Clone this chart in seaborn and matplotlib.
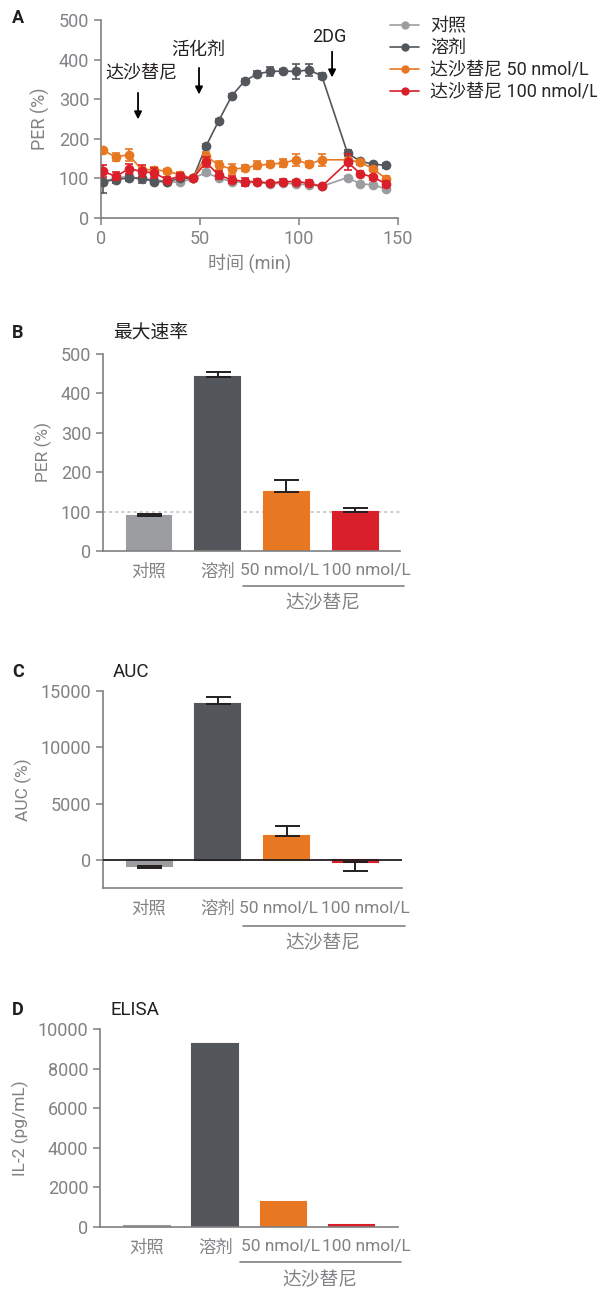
import numpy as np
import pandas as pd
import matplotlib
matplotlib.use('Agg')
import matplotlib.pyplot as plt
import seaborn as sns
from matplotlib.lines import Line2D

sns.set_theme(style='ticks')
plt.rcParams['font.family'] = ['Roboto', 'Noto Sans CJK SC', 'DejaVu Sans']
plt.rcParams['axes.unicode_minus'] = False

# ---------------- data ----------------
time_min = [1, 7.5, 14, 20.5, 27, 33.5, 40, 46.5, 53, 59.5, 66, 72.5, 79, 85.5,
            92, 98.5, 105, 111.5, 124.5, 131, 137.5, 144]
per_control = [92, 101, 105, 99, 97, 92, 90, 100, 115, 101, 92, 90, 90, 86,
               88, 86, 84, 80, 102, 86, 84, 73]
err_control = [8, 8, 6, 6, 6, 5, 5, 0, 6, 5, 4, 4, 4, 4, 4, 4, 4, 3, 5, 4, 4, 6]
per_solvent = [92, 97, 101, 100, 92, 92, 100, 100, 181, 246, 308, 346, 364, 370,
               371, 370, 374, 359, 164, 143, 136, 133]
err_solvent = [28, 8, 8, 12, 6, 5, 5, 0, 6, 5, 5, 5, 6, 12, 6, 18, 15, 8, 8, 5, 4, 7]
per_das50 = [171, 154, 160, 122, 122, 118, 109, 100, 157, 133, 124, 126, 133, 136,
             139, 147, 136, 147, 147, 141, 124, 99]
err_das50 = [4, 10, 15, 8, 8, 5, 6, 0, 10, 12, 12, 8, 10, 8, 10, 15, 8, 15, 0, 6, 6, 8]
per_das100 = [118, 105, 124, 118, 113, 97, 105, 100, 141, 108, 97, 92, 92, 88,
              92, 92, 88, 80, 141, 112, 103, 86]
err_das100 = [15, 10, 12, 15, 12, 6, 8, 0, 12, 10, 8, 10, 6, 5, 6, 5, 8, 4, 20, 6, 6, 8]
series_labels = ['对照', '溶剂', '达沙替尼 50 nmol/L', '达沙替尼 100 nmol/L']

bar_cats = ['对照', '溶剂', '50 nmol/L', '100 nmol/L']
bracket_label = '达沙替尼'
max_rate = [90, 441, 149, 98]
max_rate_err = [5, 13, 32, 11]
auc = [-470, 13850, 2150, -120]
auc_err = [240, 650, 880, 790]
il2 = [50, 9240, 1250, 110]

# ---------------- style ----------------
GREY_L = '#9c9da0'
GREY_D = '#53565a'
ORANGE = '#e87722'
RED = '#d91f29'
colors = [GREY_L, GREY_D, ORANGE, RED]
TXT = '#808285'
AXC = '#808080'

W, H = 597, 1289
fig = plt.figure(figsize=(W / 100, H / 100), dpi=100)


def ax_px(left, right, top, bottom):
    return fig.add_axes([left / W, 1 - bottom / H, (right - left) / W, (bottom - top) / H])


def style_axes(ax):
    sns.despine(ax=ax)
    for s in ['left', 'bottom']:
        ax.spines[s].set_color(AXC)
        ax.spines[s].set_linewidth(1.2)
    ax.tick_params(axis='both', colors=AXC, labelcolor=TXT, labelsize=13,
                   direction='out', length=5, width=1.1)
    ax.set_facecolor('none')


# ---------------- Panel A ----------------
axA = ax_px(101, 398, 20, 218)
ys = [per_control, per_solvent, per_das50, per_das100]
es = [err_control, err_solvent, err_das50, err_das100]
for i, (y, e) in enumerate(zip(ys, es)):
    sns.lineplot(x=time_min, y=y, ax=axA, color=colors[i], marker='o', markersize=7,
                 markeredgewidth=0, linewidth=1.2, zorder=2 + i)
    axA.errorbar(time_min, y, yerr=e, fmt='none', ecolor=colors[i], elinewidth=1.2,
                 capsize=3, capthick=1.2, zorder=2 + i)
axA.set_xlim(0, 150)
axA.set_ylim(0, 500)
axA.set_xticks([0, 50, 100, 150])
axA.set_yticks([0, 100, 200, 300, 400, 500])
style_axes(axA)
axA.set_xlabel('时间 (min)', color=TXT, fontsize=13, labelpad=4)
axA.set_ylabel('PER (%)', color=TXT, fontsize=13, labelpad=6)

arrow_kw = dict(arrowstyle='-|>', color='black', lw=1.3, mutation_scale=11)
axA.annotate('', xy=(18.7, 242), xytext=(18.7, 323), arrowprops=arrow_kw)
axA.text(20.5, 366, '达沙替尼', ha='center', va='center', fontsize=13, color='#231f20')
axA.annotate('', xy=(49.5, 305), xytext=(49.5, 386), arrowprops=arrow_kw)
axA.text(49, 424, '活化剂', ha='center', va='center', fontsize=13, color='#231f20')
axA.annotate('', xy=(116.7, 348), xytext=(116.7, 427), arrowprops=arrow_kw)
axA.text(115.5, 458, '2DG', ha='center', va='center', fontsize=13, color='#231f20')

handles = [Line2D([0], [0], color=c, marker='o', markersize=6, markeredgewidth=0, lw=1.2)
           for c in colors]
fig.legend(handles, series_labels, loc='upper left', bbox_to_anchor=(383 / W, 1 - 10 / H),
           frameon=False, fontsize=13, handlelength=1.6, handletextpad=0.6,
           labelspacing=0.22, borderaxespad=0)


# ---------------- bar panels ----------------
def bar_panel(ax, vals, errs, ylim, yticks, ylabel, xlim, width, label_x, bracket_y, label_y,
              zero=False, dotted=None):
    sns.barplot(x=bar_cats, y=vals, hue=bar_cats, palette=colors, saturation=1, ax=ax,
                width=width, legend=False, order=bar_cats, errorbar=None, zorder=2,
                edgecolor=None, linewidth=0)
    for patch, c in zip(ax.patches, colors):
        patch.set_edgecolor(c)
        patch.set_linewidth(1.5)
    if errs is not None:
        lo = [abs(e) if v < 0 else 0 for v, e in zip(vals, errs)]
        hi = [e if v >= 0 else 0 for v, e in zip(vals, errs)]
        ax.errorbar(range(len(vals)), vals, yerr=[lo, hi], fmt='none', ecolor='#231f20',
                    elinewidth=1.4, capsize=9, capthick=1.4, zorder=3)
    ax.set_ylim(*ylim)
    ax.set_yticks(yticks)
    ax.set_xlim(*xlim)
    ax.set_xticks(label_x, bar_cats)
    style_axes(ax)
    ax.tick_params(axis='x', length=0, pad=9, labelsize=12.5)
    ax.set_xlabel('')
    ax.set_ylabel(ylabel, color=TXT, fontsize=12.5, labelpad=6)
    if zero:
        ax.axhline(0, color='#231f20', lw=1.3, zorder=4)
    if dotted is not None:
        ax.axhline(dotted, color='#bfbfbf', lw=1.1, ls=(0, (2, 2)), zorder=1)
    tr = ax.get_xaxis_transform()
    ax.plot([1.37, 3.72], [bracket_y, bracket_y], transform=tr, color=AXC, lw=1.2,
            clip_on=False)
    ax.text(2.53, label_y, bracket_label, transform=tr, ha='center', va='center',
            fontsize=13.5, color=TXT)


axB = ax_px(103, 400, 354, 551)
bar_panel(axB, max_rate, max_rate_err, (0, 500), [0, 100, 200, 300, 400, 500], 'PER (%)',
          (-0.67, 3.655), 0.655, [0, 1, 1.9, 3.16], -0.178, -0.264, dotted=100)

axC = ax_px(103, 402, 691, 888)
bar_panel(axC, auc, auc_err, (-2450, 15000), [0, 5000, 10000, 15000], 'AUC (%)',
          (-0.67, 3.68), 0.655, [0, 1, 1.89, 3.14], -0.193, -0.279, zero=True)

axD = ax_px(100, 398, 1029, 1227)
bar_panel(axD, il2, None, (0, 10000), [0, 2000, 4000, 6000, 8000, 10000], 'IL-2 (pg/mL)',
          (-0.69, 3.68), 0.67, [0, 1, 1.96, 3.22], -0.178, -0.269)

# ---------------- panel letters & titles ----------------
for letter, y in [('A', 18), ('B', 333), ('C', 672), ('D', 1010)]:
    fig.text(12 / W, 1 - y / H, letter, fontsize=13, fontweight='bold', color='#231f20',
             ha='left', va='center')
for title, x, y in [('最大速率', 113, 334), ('AUC', 113, 672), ('ELISA', 110, 1010)]:
    fig.text(x / W, 1 - y / H, title, fontsize=13.5, color='#231f20', ha='left', va='center')

fig.savefig('out.png', dpi=100)
